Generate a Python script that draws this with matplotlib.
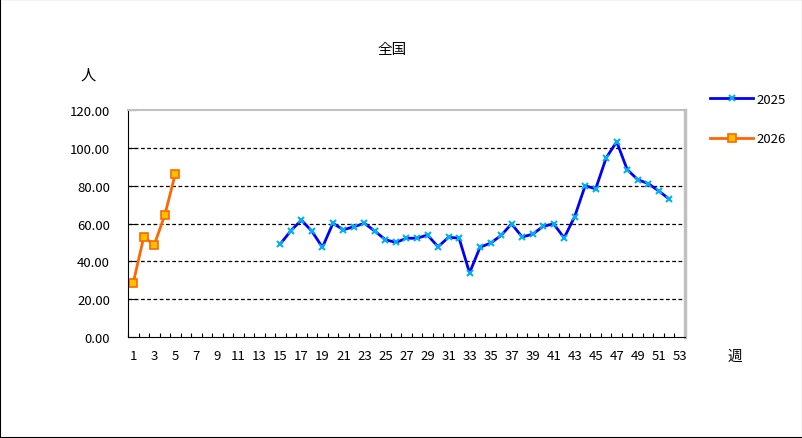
import numpy as np
import matplotlib.pyplot as plt
from matplotlib.patches import Rectangle

plt.rcParams['font.family'] = ['Noto Sans CJK JP', 'DejaVu Sans']

# weekly values
weeks_2025 = list(range(15, 53))
values_2025 = [49.2, 56.2, 61.8, 55.9, 47.4, 60.1, 56.7, 58.3, 60.1, 55.9,
               51.4, 50.0, 52.2, 52.2, 53.9, 47.7, 52.7, 52.3, 33.9, 47.5,
               49.6, 53.7, 59.8, 52.9, 54.3, 58.5, 59.8, 52.4, 63.6, 80.0,
               78.3, 94.7, 103.2, 88.5, 83.2, 81.1, 77.2, 72.9]
weeks_2026 = [1, 2, 3, 4, 5]
values_2026 = [28.6, 52.9, 48.7, 64.5, 86.2]

y_ticks = [0, 20, 40, 60, 80, 100, 120]
x_labels = list(range(1, 54, 2))

fig = plt.figure(figsize=(8.03, 4.39), dpi=100)
fig.patches.append(Rectangle((0, 0), 1, 1, transform=fig.transFigure,
                             fill=False, edgecolor='black', linewidth=1.5))
ax = fig.add_axes([128 / 803, 1 - 338 / 439, 557 / 803, 227 / 439])

ax.plot(weeks_2025, values_2025, color='#0000FF', linewidth=2,
        marker='x', markersize=5, markeredgecolor='#00B0F0',
        markeredgewidth=1.5, label='2025')
ax.plot(weeks_2026, values_2026, color='#FF6600', linewidth=2,
        marker='s', markersize=6, markerfacecolor='#FFC000',
        markeredgecolor='#FF6600', markeredgewidth=1.2, label='2026')

ax.set_xlim(0.5, 53.5)
ax.set_ylim(0, 120)
ax.set_yticks(y_ticks)
ax.set_yticklabels([f'{v:.2f}' for v in y_ticks])
ax.set_xticks(x_labels)
ax.set_xticklabels([str(v) for v in x_labels])
ax.set_xticks(np.arange(0.5, 54, 1), minor=True)
ax.tick_params(axis='x', which='major', length=0, pad=9, labelsize=9.5)
ax.tick_params(axis='x', which='minor', direction='in', length=3, width=0.8)
ax.tick_params(axis='y', direction='in', length=6, width=0.8, pad=13, labelsize=9.5)

for v in y_ticks[1:-1]:
    ax.axhline(v, color='black', linestyle=(0, (3, 2)), linewidth=0.9, zorder=0)

ax.spines['left'].set_color('black')
ax.spines['bottom'].set_color('black')
ax.spines['top'].set_color('#C0C0C0')
ax.spines['right'].set_color('#C0C0C0')
ax.spines['top'].set_linewidth(1.5)
ax.spines['right'].set_linewidth(2.5)

fig.text(392 / 803, 1 - 50 / 439, '全国', ha='center', va='center', fontsize=10.5)
fig.text(88 / 803, 1 - 75 / 439, '人', ha='center', va='center', fontsize=11)
fig.text(735 / 803, 1 - 357 / 439, '週', ha='center', va='center', fontsize=10.5)

fig.legend(loc='upper left', bbox_to_anchor=(698 / 803, 1 - 82 / 439),
           frameon=False, fontsize=9.5, handlelength=3.3, labelspacing=2.0,
           handletextpad=0.2)

fig.savefig('out.png', dpi=100)
